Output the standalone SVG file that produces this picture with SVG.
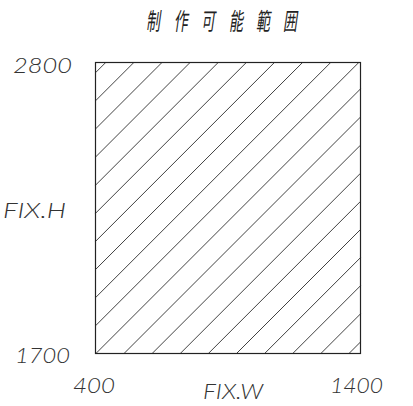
<svg xmlns="http://www.w3.org/2000/svg" width="413" height="406" viewBox="0 0 413 406">
<style>
.lbl{font-family:"Lato","Liberation Sans",sans-serif;font-weight:300;font-style:italic;fill:#333;font-size:21px}
.ttl{font-family:"Noto Sans CJK JP","Noto Sans CJK SC",sans-serif;fill:#222;font-size:24px}
.frame{fill:none;stroke:#222;stroke-width:1.2}
.hatch{fill:none;stroke:#111;stroke-width:0.8}
</style>
<rect width="413" height="406" fill="#fff"/>
<g id="title">
<text class="ttl" transform="translate(146,30) skewX(-8) scale(0.58,1)"><tspan x="0">制</tspan><tspan x="48">作</tspan><tspan x="94.8">可</tspan><tspan x="143.1">能</tspan><tspan x="189.7">範</tspan><tspan x="236.2">囲</tspan></text>
</g>
<g id="region">
<path class="hatch" d="M95.5,72.7L105.7,62.5M95.5,100.82L133.82,62.5M95.5,128.94L161.94,62.5M95.5,157.06L190.06,62.5M95.5,185.18L218.18,62.5M95.5,213.3L246.3,62.5M95.5,241.42L274.42,62.5M95.5,269.54L302.54,62.5M95.5,297.66L330.66,62.5M95.5,325.78L358.78,62.5M95.9,353.5L360.5,88.9M124.02,353.5L360.5,117.02M152.14,353.5L360.5,145.14M180.26,353.5L360.5,173.26M208.38,353.5L360.5,201.38M236.5,353.5L360.5,229.5M264.62,353.5L360.5,257.62M292.74,353.5L360.5,285.74M320.86,353.5L360.5,313.86M348.98,353.5L360.5,341.98"/>
<rect class="frame" x="95.5" y="62.5" width="265" height="291"/>
</g>
<g id="labels">
<text class="lbl" x="13" y="73" font-size="22" textLength="59" lengthAdjust="spacingAndGlyphs">2800</text>
<text class="lbl" x="3" y="218" textLength="63" lengthAdjust="spacingAndGlyphs">FIX.H</text>
<text class="lbl" x="15" y="363" textLength="55" lengthAdjust="spacingAndGlyphs">1700</text>
<text class="lbl" x="73" y="393" textLength="42" lengthAdjust="spacingAndGlyphs">400</text>
<text class="lbl" x="203" y="399" textLength="60" lengthAdjust="spacingAndGlyphs">FIX.W</text>
<text class="lbl" x="330" y="393" textLength="53" lengthAdjust="spacingAndGlyphs">1400</text>
</g>
</svg>
